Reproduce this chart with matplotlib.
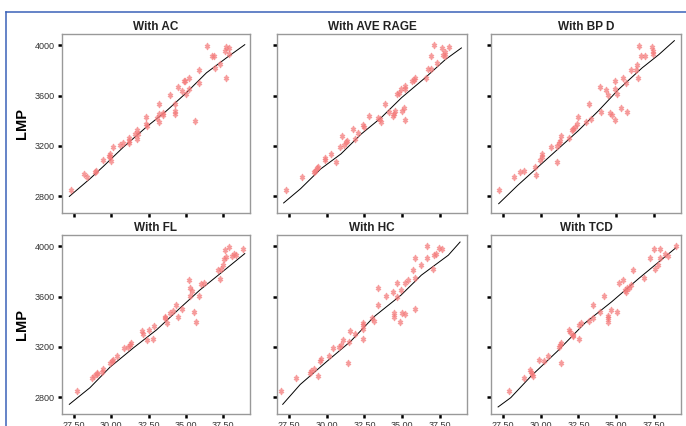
import matplotlib.pyplot as plt
import matplotlib.lines as mlines

# ---- data (gestational age in weeks vs LMP) ----
ac_x = [27.28, 28.17, 28.35, 28.88, 28.97, 29.42, 29.87, 29.9, 29.95, 30.0, 30.13,
        30.6, 30.8, 31.16, 31.16, 31.2, 31.56, 31.74, 31.78, 31.74, 32.32, 32.32, 32.37,
        33.08, 33.2, 33.2, 33.2, 33.44, 33.48, 33.93, 34.29, 34.29, 34.29, 34.5, 34.73,
        34.87, 34.93, 35.0, 35.22, 35.22, 35.63, 35.89, 35.89, 36.43, 36.74, 36.88,
        36.97, 37.32, 37.63, 37.72, 37.86, 37.68, 37.86]
ac_y = [2850, 2972, 2951, 2990, 2998, 3087, 3120, 3138, 3108, 3077, 3188,
        3203, 3222, 3266, 3240, 3220, 3293, 3325, 3293, 3256, 3430, 3377, 3359,
        3420, 3530, 3457, 3393, 3464, 3443, 3607, 3530, 3477, 3450, 3667, 3636,
        3715, 3715, 3615, 3736, 3649, 3398, 3807, 3702, 3994, 3912, 3912,
        3820, 3852, 3952, 3984, 3978, 3741, 3931]
ac_fit_x = [27.19, 28.57, 29.46, 30.8, 32.37, 33.7, 35.04, 36.38, 37.72, 38.95]
ac_fit_y = [2797, 2937, 3035, 3188, 3351, 3478, 3623, 3781, 3900, 4005]

avg_x = [27.28, 28.35, 29.15, 29.2, 29.33, 29.42, 29.87, 29.91, 30.27, 30.58,
         30.85, 30.98, 31.12, 31.29, 31.34, 31.74, 31.88, 32.05, 32.41, 32.46, 32.77,
         33.39, 33.5, 33.57, 33.88, 34.15, 34.42, 34.46, 34.51, 34.69, 34.78, 34.91,
         34.96, 35.09, 35.18, 35.18, 35.22, 35.67, 35.8, 35.84, 36.56, 36.7, 36.88,
         36.92, 37.14, 37.28, 37.63, 37.68, 37.81, 37.86, 38.13]
avg_y = [2850, 2950, 2990, 3003, 3024, 3029, 3087, 3103, 3135, 3069,
         3193, 3280, 3209, 3227, 3240, 3333, 3254, 3298, 3367, 3346, 3438,
         3420, 3412, 3393, 3536, 3472, 3438, 3457, 3478, 3609, 3623, 3649,
         3478, 3504, 3404, 3675, 3649, 3715, 3720, 3736, 3741, 3815, 3815,
         3913, 4005, 3860, 3979, 3926, 3947, 3913, 3984]
avg_fit_x = [27.14, 28.26, 29.6, 30.94, 32.28, 33.62, 34.96, 36.52, 37.86, 38.93]
avg_fit_y = [2745, 2858, 3016, 3135, 3293, 3425, 3583, 3741, 3886, 3979]

bpd_x = [27.21, 28.24, 28.64, 28.91, 29.62, 29.67, 29.93, 30.07, 30.11, 30.65,
         31.05, 31.09, 31.18, 31.27, 31.36, 31.85, 32.08, 32.17, 32.3, 32.43, 32.48,
         33.01, 33.19, 33.33, 33.95, 34.0, 34.35, 34.49, 34.58, 34.71, 34.89, 34.93,
         34.93, 35.07, 35.29, 35.47, 35.65, 35.74, 35.96, 36.32, 36.41, 36.45, 36.5,
         36.67, 36.9, 37.39, 37.43, 37.43]
bpd_y = [2850, 2950, 2990, 2998, 3029, 2971, 3087, 3108, 3135, 3188,
         3069, 3201, 3219, 3240, 3280, 3261, 3325, 3335, 3346, 3372, 3430,
         3393, 3530, 3412, 3667, 3472, 3641, 3604, 3464, 3446, 3715, 3649,
         3404, 3609, 3504, 3741, 3699, 3472, 3807, 3807, 3847, 3736, 3994,
         3913, 3913, 3984, 3958, 3931]
bpd_fit_x = [27.21, 28.46, 29.8, 31.14, 32.48, 33.82, 35.16, 36.72, 37.83, 38.86]
bpd_fit_y = [2739, 2884, 3029, 3174, 3319, 3478, 3649, 3820, 3926, 4037]

fl_x = [27.68, 28.68, 28.84, 29.02, 29.06, 29.38, 29.42, 29.91, 30.04, 30.13, 30.36,
        30.85, 31.12, 31.25, 31.34, 32.05, 32.14, 32.37, 32.55, 32.77, 32.86,
        33.57, 33.62, 33.75, 33.97, 34.15, 34.33, 34.46, 34.73, 35.22, 35.27, 35.31,
        35.4, 35.54, 35.71, 35.89, 36.03, 36.21, 37.14, 37.28, 37.37, 37.46, 37.54,
        37.63, 37.86, 37.68, 38.08, 38.21, 38.35, 38.8]
fl_y = [2847, 2948, 2966, 2985, 2993, 3000, 3024, 3072, 3090, 3098, 3124,
        3190, 3196, 3217, 3230, 3327, 3301, 3256, 3335, 3264, 3362,
        3428, 3441, 3388, 3467, 3485, 3533, 3441, 3501, 3731, 3665, 3607,
        3644, 3475, 3401, 3607, 3697, 3704, 3810, 3739, 3823, 3855, 3902,
        3968, 3995, 3915, 3921, 3942, 3934, 3981]
fl_fit_x = [27.19, 28.57, 29.91, 31.47, 33.04, 34.6, 35.94, 37.72, 38.95]
fl_fit_y = [2742, 2874, 3037, 3190, 3335, 3507, 3652, 3823, 3942]

hc_x = [26.94, 27.97, 28.86, 28.95, 29.17, 29.4, 29.53, 29.62, 30.13, 30.42,
        30.83, 30.92, 31.05, 31.41, 31.5, 31.54, 31.85, 32.39, 32.43, 32.43, 32.43,
        33.01, 33.15, 33.42, 33.42, 33.95, 34.4, 34.44, 34.49, 34.67, 34.67, 34.84,
        34.93, 35.02, 35.16, 35.2, 35.38, 35.69, 35.87, 35.87, 35.87, 36.27, 36.67,
        36.67, 37.03, 37.12, 37.25, 37.43, 37.61]
hc_y = [2847, 2948, 2993, 3006, 3027, 2966, 3090, 3106, 3124, 3190,
        3196, 3217, 3256, 3072, 3238, 3327, 3301, 3388, 3375, 3343, 3264,
        3428, 3407, 3670, 3533, 3607, 3639, 3467, 3441, 3704, 3599, 3401,
        3652, 3467, 3459, 3704, 3731, 3815, 3907, 3744, 3501, 3855, 4000,
        3907, 3818, 3928, 3937, 3987, 3976]
hc_fit_x = [27.08, 28.24, 30.02, 31.58, 33.15, 34.93, 36.27, 38.06, 38.84]
hc_fit_y = [2742, 2900, 3085, 3243, 3441, 3612, 3770, 3929, 4034]

tcd_x = [27.9, 28.91, 29.31, 29.35, 29.4, 29.49, 29.91, 30.2, 30.47, 31.18, 31.27,
         31.36, 31.36, 31.9, 31.94, 32.12, 32.17, 32.52, 32.56, 32.65, 33.18, 33.46,
         33.46, 33.96, 34.18, 34.45, 34.49, 34.49, 34.63, 35.07, 35.21, 35.43, 35.57,
         35.66, 35.71, 35.88, 35.97, 36.1, 36.82, 37.22, 37.54, 37.59, 37.77, 37.88,
         37.92, 38.24, 38.42, 38.96]
tcd_y = [2847, 2948, 3019, 3000, 2985, 2966, 3098, 3090, 3124, 3196, 3217,
         3232, 3072, 3335, 3317, 3296, 3283, 3264, 3375, 3388, 3407, 3533,
         3428, 3475, 3607, 3449, 3428, 3396, 3494, 3475, 3704, 3731, 3652,
         3639, 3670, 3665, 3691, 3810, 3744, 3907, 3981, 3820, 3849, 3976,
         3907, 3939, 3923, 4000]
tcd_fit_x = [27.17, 28.01, 29.35, 31.14, 32.92, 34.71, 36.5, 37.83, 38.95]
tcd_fit_y = [2721, 2795, 2966, 3169, 3388, 3559, 3744, 3876, 3987]

titles = ['With AC', 'With AVE RAGE', 'With BP D', 'With FL', 'With HC', 'With TCD']
x_ticks = [27.5, 30.0, 32.5, 35.0, 37.5]
y_ticks = [2800, 3200, 3600, 4000]

panels = [
    (ac_x, ac_y, ac_fit_x, ac_fit_y),
    (avg_x, avg_y, avg_fit_x, avg_fit_y),
    (bpd_x, bpd_y, bpd_fit_x, bpd_fit_y),
    (fl_x, fl_y, fl_fit_x, fl_fit_y),
    (hc_x, hc_y, hc_fit_x, hc_fit_y),
    (tcd_x, tcd_y, tcd_fit_x, tcd_fit_y),
]

plt.rcParams['font.family'] = ['Liberation Sans', 'DejaVu Sans']

fig = plt.figure(figsize=(6.86, 4.26), dpi=100)

# blue frame on the left and top edge
fig.add_artist(mlines.Line2D([6 / 686, 6 / 686], [0, 1 - 12 / 426],
                             color='#3a62b8', lw=1.1, transform=fig.transFigure))
fig.add_artist(mlines.Line2D([6 / 686, 1], [1 - 12 / 426, 1 - 12 / 426],
                             color='#3a62b8', lw=1.1, transform=fig.transFigure))

lefts = [62 / 686, 277 / 686, 491 / 686]
widths = [188 / 686, 190 / 686, 190 / 686]
bottoms = [1 - 213 / 426, 1 - 414 / 426]
height = 179 / 426

for i, (px, py, fx, fy) in enumerate(panels):
    row, col = divmod(i, 3)
    ax = fig.add_axes([lefts[col], bottoms[row], widths[col], height])
    ax.plot(fx, fy, color='black', lw=0.7)
    ax.plot(px, py, linestyle='none', marker=r'$\ddagger$', markersize=4.2,
            color='#f47a7a', alpha=0.75)
    ax.set_xlim(26.7, 39.3)
    ax.set_ylim(2665, 4090)
    ax.set_xticks(x_ticks)
    ax.set_yticks(y_ticks)
    ax.set_title(titles[i], fontsize=8.5, fontweight='bold', color='#222222', pad=3)
    for s in ax.spines.values():
        s.set_color('#999999')
        s.set_linewidth(1.0)
    ax.tick_params(direction='out', length=3, width=1.8, color='black',
                   labelsize=6.5, labelcolor='#333333', pad=2)
    if col == 0:
        ax.set_yticklabels([f'{v:d}' for v in y_ticks])
        ax.set_ylabel('LMP', fontsize=10.5, fontweight='bold', labelpad=4)
    else:
        ax.set_yticklabels([])
    if row == 1:
        ax.set_xticklabels([f'{v:.2f}' for v in x_ticks])
    else:
        ax.set_xticklabels([])

fig.savefig('out.png', dpi=100)
